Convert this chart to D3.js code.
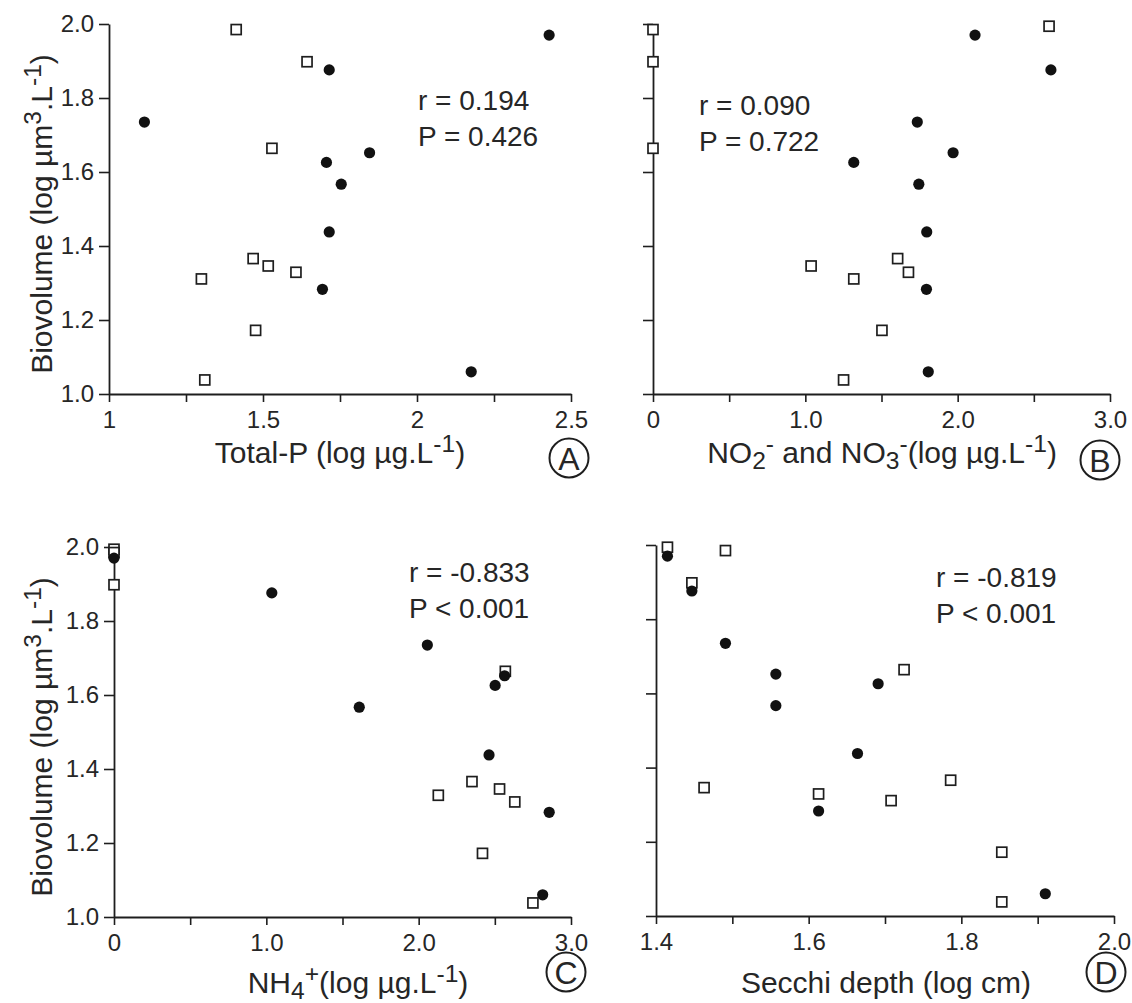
<!DOCTYPE html>
<html>
<head>
<meta charset="utf-8">
<script src="https://cdn.jsdelivr.net/npm/d3@7"></script>
<style>
  body { margin: 0; background: #fff; }
  svg text { font-family: "Liberation Sans", Arial, sans-serif; fill: #262626; }
</style>
</head>
<body>
<div id="chart"></div>
<script>
// Biovolume (log µm3.L-1) for the two groups of samples
const circleBiovolume = [1.970, 1.876, 1.735, 1.652, 1.626, 1.567, 1.438, 1.283, 1.060];
const squareBiovolume = [1.994, 1.985, 1.898, 1.664, 1.366, 1.346, 1.329, 1.311, 1.172, 1.038];

// x values, same order as the biovolume arrays (null = not visible)
const circleTotalP = [2.429, 1.715, 1.115, 1.846, 1.706, 1.754, 1.715, 1.693, 2.176];
const squareTotalP = [null, 1.413, 1.643, 1.529, 1.468, 1.517, 1.607, 1.300, 1.476, 1.311];

const circleNOx = [2.114, 2.612, 1.735, 1.970, 1.318, 1.745, 1.797, 1.795, 1.807];
const squareNOx = [2.600, 0, 0, 0, 1.606, 1.038, 1.677, 1.318, 1.503, 1.251];

const circleNH4 = [0, 1.036, 2.057, 2.564, 2.502, 1.610, 2.462, 2.857, 2.814];
const squareNH4 = [0, 0, 0, 2.569, 2.350, 2.531, 2.129, 2.631, 2.419, 2.750];

const circleSecchi = [1.415, 1.447, 1.491, 1.557, 1.691, 1.557, 1.664, 1.613, 1.910];
const squareSecchi = [1.415, 1.491, 1.447, 1.725, 1.786, 1.463, 1.613, 1.708, 1.853, 1.853];

const panelLetters = ["A", "B", "C", "D"];
const statR = ["r = 0.194", "r = 0.090", "r = -0.833", "r = -0.819"];
const statP = ["P = 0.426", "P = 0.722", "P < 0.001", "P < 0.001"];

const yTicks = [1.0, 1.2, 1.4, 1.6, 1.8, 2.0];
const xTicksA = [1, 1.25, 1.5, 1.75, 2, 2.25, 2.5];
const xTicksN = [0, 0.5, 1, 1.5, 2, 2.5, 3];
const xTicksD = [1.4, 1.5, 1.6, 1.7, 1.8, 1.9, 2.0];
const xLabelledA = [1, 1.5, 2, 2.5];
const xLabelledN = [0, 1, 2, 3];
const xLabelledD = [1.4, 1.6, 1.8, 2.0];

// axis titles as runs of text (sup/sub)
const titleY = [["Biovolume (log µm"], ["3", "sup"], [".L"], ["-1", "sup"], [")"]];
const titleA = [["Total-P (log µg.L"], ["-1", "sup"], [")"]];
const titleB = [["NO"], ["2", "sub"], ["-", "sup"], [" and NO"], ["3", "sub"], ["-", "sup"], ["(log µg.L"], ["-1", "sup"], [")"]];
const titleC = [["NH"], ["4", "sub"], ["+", "sup"], ["(log µg.L"], ["-1", "sup"], [")"]];
const titleD = [["Secchi depth (log cm)"]];

const width = 1132, height = 1003;
const ink = "#1e1e1e";

const svg = d3.select("#chart").append("svg")
    .attr("width", width)
    .attr("height", height);

// layout of each panel (pixel positions)
const panels = [
    { x0: 109, x1: 571, yTop: 24, yBot: 394, domain: [1, 2.5], ticks: xTicksA, labelled: xLabelledA,
      fmt: d3.format(""), yLabels: true, cx: circleTotalP, sx: squareTotalP, title: titleA,
      titleX: 340, titleY: 463, letterX: 569, letterY: 458, statX: 418, statY: 110 },
    { x0: 653, x1: 1110, yTop: 24, yBot: 394, domain: [0, 3], ticks: xTicksN, labelled: xLabelledN,
      fmt: d => d === 0 ? "0" : d3.format(".1f")(d), yLabels: false, cx: circleNOx, sx: squareNOx, title: titleB,
      titleX: 882, titleY: 463, letterX: 1100, letterY: 460, statX: 699, statY: 115 },
    { x0: 114, x1: 571, yTop: 547, yBot: 917, domain: [0, 3], ticks: xTicksN, labelled: xLabelledN,
      fmt: d => d === 0 ? "0" : d3.format(".1f")(d), yLabels: true, cx: circleNH4, sx: squareNH4, title: titleC,
      titleX: 358, titleY: 993, letterX: 566, letterY: 972, statX: 409, statY: 582 },
    { x0: 656, x1: 1114, yTop: 545, yBot: 916, domain: [1.4, 2.0], ticks: xTicksD, labelled: xLabelledD,
      fmt: d3.format(".1f"), yLabels: false, cx: circleSecchi, sx: squareSecchi, title: titleD,
      titleX: 886, titleY: 993, letterX: 1106, letterY: 972, statX: 936, statY: 587 }
];

function richText(sel, runs, size) {
    let shift = 0;
    runs.forEach(([t, kind]) => {
        const target = kind === "sup" ? -0.38 * size : kind === "sub" ? 0.2 * size : 0;
        sel.append("tspan")
            .attr("dy", target - shift)
            .style("font-size", kind ? (0.82 * size) + "px" : size + "px")
            .text(t);
        shift = target;
    });
}

panels.forEach((p, i) => {
    const x = d3.scaleLinear().domain(p.domain).range([p.x0, p.x1]);
    const y = d3.scaleLinear().domain([1, 2]).range([p.yBot, p.yTop]);
    const g = svg.append("g");

    const near = (a, b) => Math.abs(a - b) < 1e-6;

    const xAxis = g.append("g")
        .attr("transform", `translate(0,${p.yBot})`)
        .call(d3.axisBottom(x).tickValues(p.ticks).tickSizeInner(8).tickSizeOuter(0).tickPadding(9)
            .tickFormat(d => p.labelled.some(v => near(v, d)) ? p.fmt(d) : ""));

    const yAxis = g.append("g")
        .attr("transform", `translate(${p.x0},0)`)
        .call(d3.axisLeft(y).tickValues(yTicks).tickSizeInner(10).tickSizeOuter(0).tickPadding(5)
            .tickFormat(d => p.yLabels ? d3.format(".1f")(d) : ""));

    [xAxis, yAxis].forEach(a => {
        a.select(".domain").attr("stroke", ink).attr("stroke-width", 1.8);
        a.selectAll(".tick line").attr("stroke", ink).attr("stroke-width", 1.6);
        a.selectAll(".tick text")
            .style("font-size", "24px")
            .style("font-family", "'Liberation Sans', Arial, sans-serif")
            .attr("fill", "#262626");
    });

    // open squares
    const sq = 10;
    g.selectAll(".sq")
        .data(p.sx.map((v, k) => ({ x: v, y: squareBiovolume[k] })).filter(d => d.x !== null))
        .enter().append("rect")
        .attr("x", d => x(d.x) - sq / 2)
        .attr("y", d => y(d.y) - sq / 2)
        .attr("width", sq)
        .attr("height", sq)
        .attr("fill", "#fff")
        .attr("stroke", ink)
        .attr("stroke-width", 1.7);

    // filled circles
    g.selectAll(".dot")
        .data(p.cx.map((v, k) => ({ x: v, y: circleBiovolume[k] })))
        .enter().append("circle")
        .attr("cx", d => x(d.x))
        .attr("cy", d => y(d.y))
        .attr("r", 5.6)
        .attr("fill", "#111");

    // stats
    g.append("text").attr("x", p.statX).attr("y", p.statY)
        .style("font-size", "28px").text(statR[i]);
    g.append("text").attr("x", p.statX).attr("y", p.statY + 36)
        .style("font-size", "28px").text(statP[i]);

    // x title
    const xt = g.append("text")
        .attr("x", p.titleX).attr("y", p.titleY)
        .attr("text-anchor", "middle");
    richText(xt, p.title, 30);

    // y title
    if (p.yLabels) {
        const cy = (p.yTop + p.yBot) / 2 + 5;
        const yt = g.append("text")
            .attr("transform", `translate(52,${cy}) rotate(-90)`)
            .attr("text-anchor", "middle");
        richText(yt, titleY, 30);
    }

    // circled panel letter
    g.append("circle")
        .attr("cx", p.letterX).attr("cy", p.letterY).attr("r", 19.5)
        .attr("fill", "none").attr("stroke", ink).attr("stroke-width", 2);
    g.append("text")
        .attr("x", p.letterX).attr("y", p.letterY + 11.5)
        .attr("text-anchor", "middle")
        .style("font-size", "32px")
        .text(panelLetters[i]);
});
</script>
</body>
</html>
